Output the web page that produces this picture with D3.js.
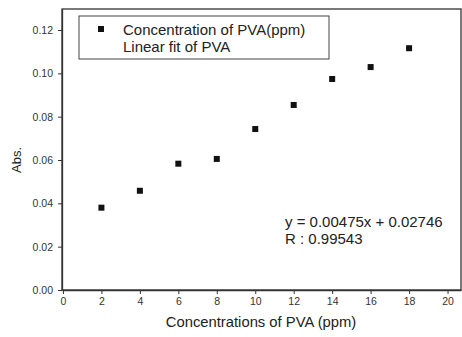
<!DOCTYPE html>
<html>
<head>
<meta charset="utf-8">
<script src="https://cdn.jsdelivr.net/npm/d3@7"></script>
<style>
  body { margin: 0; background: #fff; }
  svg text { font-family: "Liberation Sans", Arial, sans-serif; fill: #222; }
</style>
</head>
<body>
<div id="chart"></div>
<script>
// concentrations (ppm) and absorbance
var conc = [2, 4, 6, 8, 10, 12, 14, 16, 18];
var absVals = [0.0380, 0.0458, 0.0583, 0.0605, 0.0743, 0.0854, 0.0974, 0.1029, 0.1116];
var xTicks = [0, 2, 4, 6, 8, 10, 12, 14, 16, 18, 20];
var yTicks = [0.00, 0.02, 0.04, 0.06, 0.08, 0.10, 0.12];
var legendLabels = ["Concentration of PVA(ppm)", "Linear fit of PVA"];
var fitLabels = ["y = 0.00475x + 0.02746", "R : 0.99543"];

var margin = {top: 9, right: 1, bottom: 47, left: 62},
    width = 462 - margin.left - margin.right,
    height = 337 - margin.top - margin.bottom;

var svg = d3.select("#chart").append("svg")
    .attr("width", 462)
    .attr("height", 337);

var g = svg.append("g")
    .attr("transform", "translate(" + margin.left + "," + margin.top + ")");

var x = d3.scaleLinear().domain([-0.05, 20.7]).range([0, width]);
var y = d3.scaleLinear().domain([0, 0.1297]).range([height, 0]);

// frame
g.append("rect")
    .attr("x", 0).attr("y", 0)
    .attr("width", width).attr("height", height)
    .attr("fill", "none")
    .attr("stroke", "#333")
    .attr("stroke-width", 1.3);

// x axis
var xAxis = g.append("g")
    .attr("transform", "translate(0," + height + ")")
    .call(d3.axisBottom(x).tickValues(xTicks).tickSize(4).tickSizeOuter(0).tickPadding(4));

// y axis
var yAxis = g.append("g")
    .call(d3.axisLeft(y).tickValues(yTicks).tickSize(4).tickSizeOuter(0).tickPadding(5)
        .tickFormat(d3.format(".2f")));

[xAxis, yAxis].forEach(function(a){
    a.select(".domain").attr("stroke", "#333").attr("stroke-width", 1.3);
    a.selectAll(".tick line").attr("stroke", "#333");
    a.selectAll("text").attr("font-size", 10.5).style("fill", "#333");
});

// points
g.selectAll(".pt")
    .data(conc)
    .enter()
    .append("rect")
    .attr("class", "pt")
    .attr("x", function(d){ return x(d) - 3; })
    .attr("y", function(d, i){ return y(absVals[i]) - 3; })
    .attr("width", 6)
    .attr("height", 6)
    .attr("fill", "#111");

// axis titles
svg.append("text")
    .attr("x", 261).attr("y", 327)
    .attr("text-anchor", "middle")
    .attr("font-size", 14.8)
    .text("Concentrations of PVA (ppm)");

svg.append("text")
    .attr("transform", "translate(21,160) rotate(-90)")
    .attr("text-anchor", "middle")
    .attr("font-size", 13)
    .text("Abs.");

// legend
var legend = svg.append("g");
legend.append("rect")
    .attr("x", 79).attr("y", 16)
    .attr("width", 250).attr("height", 43)
    .attr("fill", "#fff")
    .attr("stroke", "#444")
    .attr("stroke-width", 1);
legend.append("rect")
    .attr("x", 98).attr("y", 26)
    .attr("width", 6).attr("height", 6)
    .attr("fill", "#111");
legend.selectAll(".lg")
    .data(legendLabels)
    .enter()
    .append("text")
    .attr("class", "lg")
    .attr("x", 123)
    .attr("y", function(d, i){ return 35 + i * 17; })
    .attr("font-size", 15)
    .text(function(d){ return d; });

// fit annotation
svg.selectAll(".fit")
    .data(fitLabels)
    .enter()
    .append("text")
    .attr("class", "fit")
    .attr("x", 285)
    .attr("y", function(d, i){ return 227 + i * 17; })
    .attr("font-size", 15)
    .text(function(d){ return d; });
</script>
</body>
</html>
